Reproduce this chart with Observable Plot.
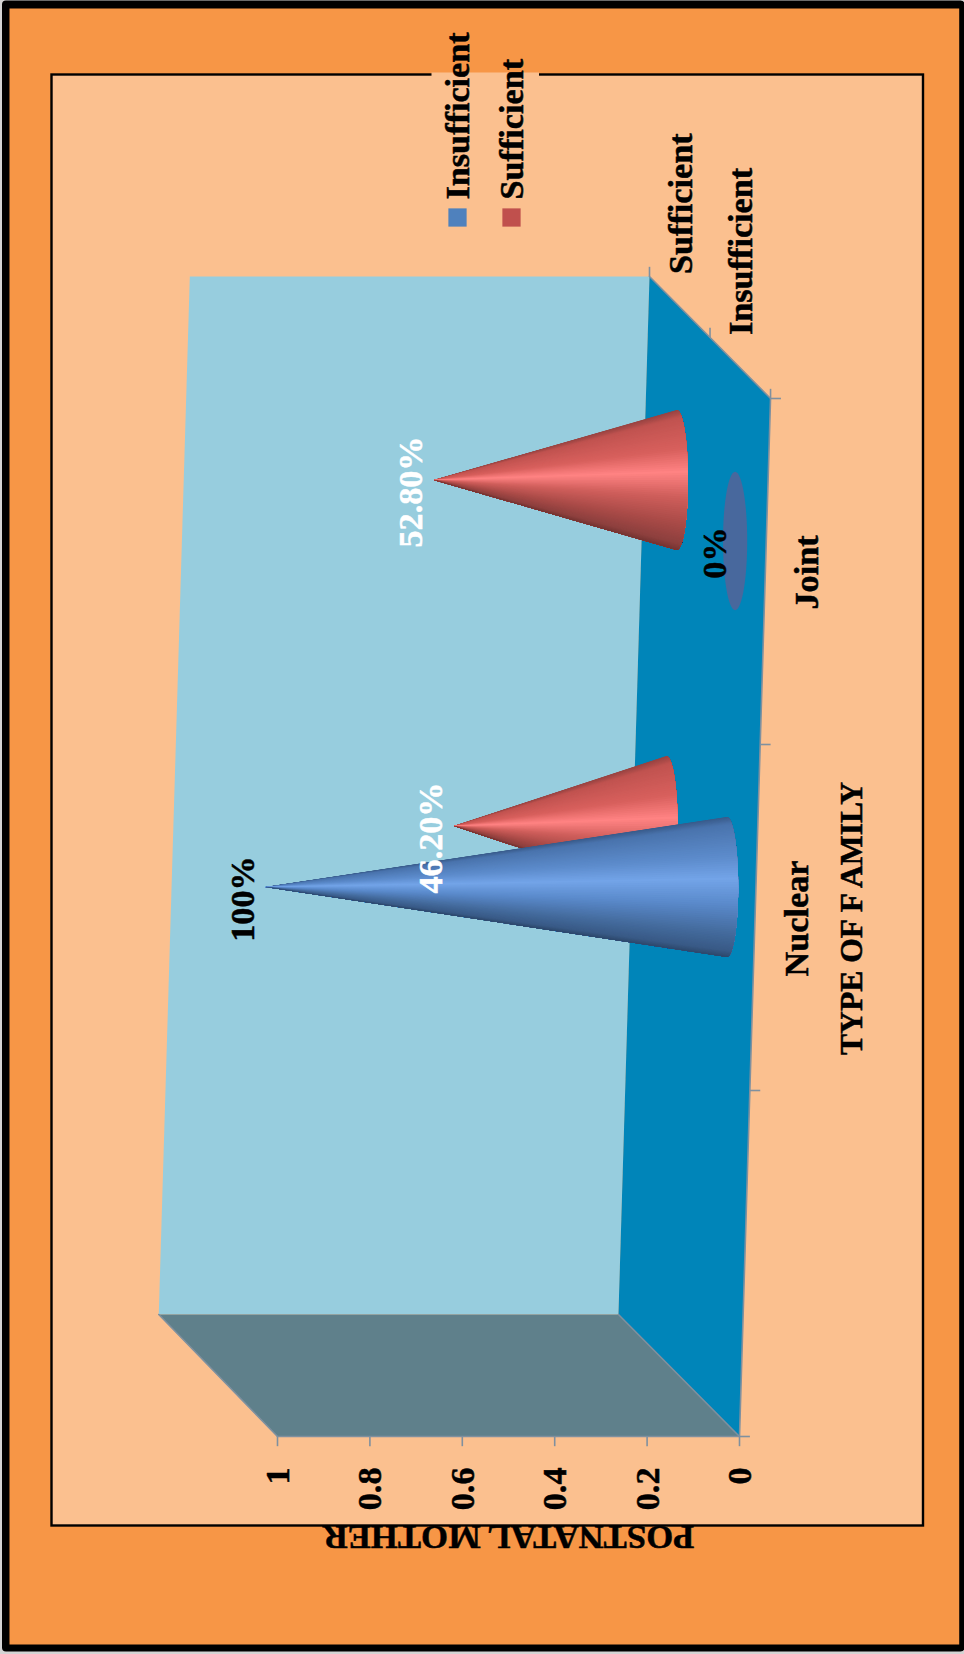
<!DOCTYPE html>
<html>
<head>
<meta charset="utf-8">
<script src="https://cdn.jsdelivr.net/npm/d3@7"></script>
<script src="https://cdn.jsdelivr.net/npm/@observablehq/plot@0.6"></script>
<style>
  html, body { margin: 0; padding: 0; background: #d4d4d4; }
  svg { display: block; }
</style>
</head>
<body>
<div id="chart"></div>
<script>
// Chart content
const families = ["Nuclear", "Joint"];
const adequacy = ["Insufficient", "Sufficient"];
const insufficientValues = [1, 0];
const sufficientValues = [0.462, 0.528];
const insufficientLabels = ["100%", "0%"];
const sufficientLabels = ["46.20%", "52.80%"];
const valueTicks = [0, 0.2, 0.4, 0.6, 0.8, 1];
const valueTitle = "POSTNATAL MOTHER";
const familyTitle = "TYPE OF F AMILY";

// Oblique box: the page is turned a quarter, so value grows leftwards and
// categories climb the page. Depth runs from the front edge (0) to the wall (1).
const slots = 3;
const shearValuePerDepth = 0.262;
const shearValuePerSlot = -0.0224;
const shearSlotPerDepth = 0.3526;
const recedeWithDepth = 0.005;
const project = (value, slot, depth) => ({
  x: value * (1 - recedeWithDepth * depth) + depth * shearValuePerDepth + slot * shearValuePerSlot,
  y: slot + depth * shearSlotPerDepth
});
const depthOf = {Insufficient: 0.25, Sufficient: 0.75};
const slotOf = {Nuclear: 1.5, Joint: 2.5};
const baseRadiusValue = 0.024;
const baseRadiusSlot = 0.2023;
const coneForward = -0.005;

// Polygons are open lines with a fill; Plot closes the fill itself
const polygon = (corners, fill) =>
  Plot.line(corners.map(c => project(...c)), {x: "x", y: "y", fill, stroke: "none"});
const edge = (corners) =>
  Plot.line(corners.map(c => project(...c)), {x: "x", y: "y", stroke: "#7f909f", strokeWidth: 1.6});

const mix = (stops, s) => {
  const scale = d3.scaleLinear().domain(stops.map(d => d[0])).range(stops.map(d => d[1])).interpolate(d3.interpolateRgb);
  return scale(s);
};
const shades = {
  Insufficient: [[-1, "#3a5c8c"], [-0.9, "#4a74ad"], [-0.45, "#5c8bcb"], [-0.12, "#73a4e8"], [0.25, "#5a8acb"], [0.65, "#456c9f"], [0.92, "#395a86"], [1, "#2f4a6e"]],
  Sufficient: [[-1, "#984442"], [-0.9, "#c15350"], [-0.45, "#d8605d"], [-0.12, "#ff8383"], [0.25, "#cf5e5b"], [0.65, "#a84a47"], [0.92, "#8d403e"], [1, "#773634"]]
};

// A cone is painted as overlapping fans from the tip to the near half of its
// base ring, each fan running on to the far side so no gaps show between shades.
function coneFans(family, series, value) {
  const slot = slotOf[family], depth = depthOf[series];
  const shift = p => ({x: p.x + coneForward, y: p.y});
  const tip = shift(project(value, slot, depth));
  const centre = shift(project(0, slot, depth));
  const steps = 90;
  const ring = a => ({
    x: centre.x - baseRadiusValue * Math.cos(a),
    y: centre.y - baseRadiusSlot * Math.sin(a)
  });
  const angle = i => -Math.PI / 2 + Math.PI * i / steps;
  return d3.range(steps).map(i => {
    const color = mix(shades[series], Math.sin((angle(i) + angle(i + 1)) / 2));
    const rim = d3.range(i, steps + 1).map(j => ring(angle(j)));
    return Plot.line([tip, ...rim, tip], {x: "x", y: "y", fill: color, stroke: "none"});
  });
}

// A zero value collapses to its flat base ring on the floor
function flatRing(family, series, fill) {
  const centre = project(0, slotOf[family], depthOf[series]);
  const ring = d3.range(0, 61).map(i => {
    const a = 2 * Math.PI * i / 60;
    return {x: centre.x + 0.0262 * Math.cos(a), y: centre.y + 0.2 * Math.sin(a)};
  });
  return Plot.line(ring, {x: "x", y: "y", fill, stroke: "none"});
}

const serif = {fontFamily: "'Liberation Serif', 'Times New Roman', serif", fontWeight: "bold", strokeWidth: 0.5};
const labelSize = 34.2;
const upright = {...serif, fontSize: labelSize, rotate: -90, lineAnchor: "bottom"};

const bars = [];
families.forEach((family, i) => {
  bars.push({family, series: "Sufficient", value: sufficientValues[i], label: sufficientLabels[i], ink: "white"});
});
families.forEach((family, i) => {
  bars.push({family, series: "Insufficient", value: insufficientValues[i], label: insufficientLabels[i], ink: "black"});
});

const coneMarks = bars.flatMap(b =>
  b.value > 0 ? coneFans(b.family, b.series, b.value) : [flatRing(b.family, b.series, "#48689d")]
);

const slotTicks = d3.range(0, slots + 1);
const tickLength = {along: 0.0225, across: 0.028};
const tickStroke = {stroke: "#7f909f", strokeWidth: 1.6};

const chart = Plot.plot({
  width: 964,
  height: 1654,
  margin: 0,
  style: {background: "#d4d4d4"},
  x: {domain: [1, 0], range: [277, 739], axis: null},
  y: {domain: [0, slots], range: [1436, 398], axis: null},
  color: {type: "identity"},
  marks: [
    // Outer border, slide background, inner panel and the gap behind the legend
    Plot.frame({fill: "black", stroke: "none", insetLeft: 1.5, insetBottom: 3, rx: 4}),
    Plot.frame({fill: "#f79646", stroke: "none", insetLeft: 9, insetTop: 8, insetRight: 5.3, insetBottom: 10}),
    Plot.frame({fill: "#fbc08f", stroke: "black", strokeWidth: 2.4, insetLeft: 51, insetTop: 74, insetRight: 41.5, insetBottom: 129}),
    Plot.frame({fill: "#fbc08f", stroke: "none", insetLeft: 431, insetRight: 425.5, insetTop: 72, insetBottom: 1577}),

    // Walls and floor of the box
    polygon([[1, 0, 1], [1, slots, 1], [0, slots, 1], [0, 0, 1]], "#97cdde"),
    polygon([[0, slots, 1], [0, slots, 0], [0, 0, 0], [0, 0, 1]], "#0085b9"),
    polygon([[1, 0, 1], [0, 0, 1], [0, 0, 0], [1, 0, 0]], "#5f808b"),
    edge([[0, slots, 1], [0, slots, 0], [0, 0, 0], [1, 0, 0]]),
    edge([[1, 0, 0], [1, 0, 1]]),
    edge([[0, 0, 0], [0, 0, 1]]),

    // Tick marks on the value, category and depth edges
    Plot.link(valueTicks, {
      x1: v => project(v, 0, 0).x, y1: v => project(v, 0, 0).y,
      x2: v => project(v, 0, 0).x, y2: v => project(v, 0, 0).y - tickLength.across,
      ...tickStroke
    }),
    Plot.link(slotTicks, {
      x1: s => project(0, s, 0).x, y1: s => project(0, s, 0).y,
      x2: s => project(0, s, 0).x - tickLength.along, y2: s => project(0, s, 0).y,
      ...tickStroke
    }),
    Plot.link([0, 0.5, 1], {
      x1: d => project(0, slots, d).x, y1: d => project(0, slots, d).y,
      x2: d => project(0, slots, d).x, y2: d => project(0, slots, d).y + 0.028,
      ...tickStroke
    }),

    ...coneMarks,

    // Value labels at the cone tips
    Plot.text(bars, {
      x: b => project(b.value, slotOf[b.family], depthOf[b.series]).x,
      y: b => project(b.value, slotOf[b.family], depthOf[b.series]).y,
      text: "label", fill: "ink", stroke: "ink", textAnchor: "middle", dx: -9.5, dy: 12, ...upright
    }),

    // Axis labels
    Plot.text(valueTicks, {
      x: v => project(v, 0, 0).x, y: v => project(v, 0, 0).y,
      text: d => String(d), textAnchor: "end", dx: 11.5, dy: 31, fill: "black", stroke: "black", ...upright
    }),
    Plot.text(families, {
      x: f => project(0, slotOf[f], 0).x, y: f => project(0, slotOf[f], 0).y,
      text: d => d, textAnchor: "middle", dx: 53, dy: 1, fill: "black", stroke: "black", ...upright
    }),
    Plot.text(adequacy, {
      x: s => project(0, slots, depthOf[s]).x, y: s => project(0, slots, depthOf[s]).y,
      text: d => d, textAnchor: "start", dx: 12, dy: -33, fill: "black", stroke: "black", ...upright
    }),
    Plot.text([familyTitle], {
      x: () => project(0, 1.5, 0).x, y: () => project(0, 1.5, 0).y,
      text: d => d, textAnchor: "middle", dx: 107, dy: 1, fill: "black", stroke: "black", ...upright, fontSize: 31.6
    }),
    Plot.text([valueTitle], {
      x: () => project(0.5, 0, 0).x, y: () => project(0.5, 0, 0).y,
      text: d => d, textAnchor: "middle", dy: 89, fill: "black", stroke: "black", ...serif, fontSize: 34.7, rotate: 180, lineAnchor: "bottom"
    }),

    // Legend
    Plot.dot(adequacy, {
      frameAnchor: "top-left", dx: 457, dy: 217, symbol: "square", r: 10.3,
      fill: "#4f81bd", stroke: "none", filter: d => d === "Insufficient"
    }),
    Plot.dot(adequacy, {
      frameAnchor: "top-left", dx: 511, dy: 217, symbol: "square", r: 10.3,
      fill: "#c0504d", stroke: "none", filter: d => d === "Sufficient"
    }),
    Plot.text(adequacy, {
      frameAnchor: "top-left", dx: 468, dy: 199, text: d => d, textAnchor: "start", fill: "black", stroke: "black",
      filter: d => d === "Insufficient", ...upright
    }),
    Plot.text(adequacy, {
      frameAnchor: "top-left", dx: 522, dy: 199, text: d => d, textAnchor: "start", fill: "black", stroke: "black",
      filter: d => d === "Sufficient", ...upright
    })
  ]
});
document.getElementById("chart").append(chart);
</script>
</body>
</html>
